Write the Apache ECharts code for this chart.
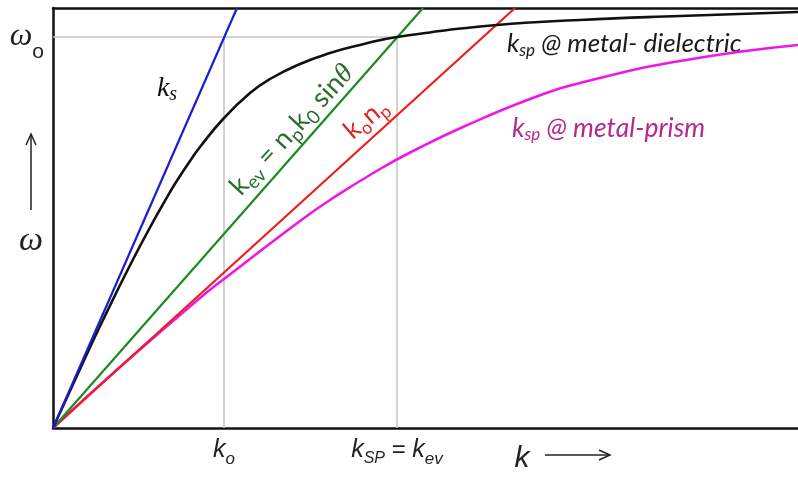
<!DOCTYPE html>
<html>
<head>
<meta charset="utf-8">
<script src="https://cdn.jsdelivr.net/npm/echarts@6/dist/echarts.min.js"></script>
<style>html,body{margin:0;padding:0;background:#fff}#c{width:798px;height:481px}</style>
</head>
<body>
<div id="c"></div>
<script>
// Axis extents (arbitrary units: wavevector k, frequency ω)
const kMax = 745;
const wMax = 420;
// Reference positions
const k0 = 171;
const kSP = 344;
const omega0 = 391;
// Tick labels
const xTickValues = [k0, kSP];
const xTickLabels = ['{k|k}{s|o}', '{k|k}{s2|SP}{e| = }{k|k}{s|ev}'];
const yTickValues = [omega0];
const yTickLabels = ['{w|ω}{o|o}'];
// Light line k_s
const ksK = [0, 184];
const ksW = [0, 420];
// Evanescent wave k_ev = n_p k0 sinθ
const kevK = [0, 370];
const kevW = [0, 420];
// k0 n_p
const knpK = [0, 462];
const knpW = [0, 420];
// SP dispersion at metal-dielectric
const mdK = [0, 22, 50, 87, 117, 137, 147, 171, 197, 217, 247, 277, 307, 344, 444, 527, 627, 745];
const mdW = [0, 48, 108, 182, 236, 267, 281, 310, 335, 349, 364, 375, 383, 391, 403, 408, 412, 416];
// SP dispersion at metal-prism
const mpK = [0, 67, 147, 171, 247, 277, 327, 364, 410, 477, 527, 627, 745];
const mpW = [0, 61, 130, 149, 207, 228, 259, 279, 301, 329, 345, 367, 383];

const pairs = (a, b) => a.map((v, i) => [v, b[i]]);

const chart = echarts.init(document.getElementById('c'), null, {renderer: 'canvas'});

function lineSeries(data, color, width, smooth, z) {
  return {type: 'line', data: data, symbol: 'none', smooth: smooth, silent: true, z: z || 2,
    lineStyle: {color: color, width: width}, xAxisIndex: 0, yAxisIndex: 0};
}
const grey = '#c4c4c4';

// rich-text helpers: main token and lowered subscript token
function mainTok(family, size, color, lh, italic) {
  return {fontFamily: family, fontSize: size, fontStyle: italic ? 'italic' : 'normal', color: color, fill: color,
    lineHeight: lh, verticalAlign: 'top'};
}
function subTok(family, size, color, drop, italic) {
  return {fontFamily: family, fontSize: size, fontStyle: italic ? 'italic' : 'normal', color: color, fill: color,
    verticalAlign: 'top', padding: [drop, 0, 0, 0]};
}

const option = {
  animation: false,
  backgroundColor: '#fff',
  grid: {left: 53, right: 0, top: 8, bottom: 53},
  xAxis: [{
    type: 'value', min: 0, max: kMax, position: 'bottom',
    axisLine: {show: true, onZero: false, lineStyle: {color: '#111', width: 2.5}},
    axisTick: {show: false},
    splitLine: {show: false},
    axisLabel: {
      show: true, customValues: xTickValues, margin: 10,
      formatter: (v) => xTickLabels[xTickValues.indexOf(v)] || '',
      rich: {
        k: mainTok('Liberation Sans', 25, '#222', 30, true),
        e: mainTok('Liberation Sans', 24, '#222', 30, false),
        s: subTok('Liberation Sans', 17, '#222', 13, true),
        s2: subTok('Liberation Sans', 16, '#222', 13, true)
      }
    }
  }, {
    type: 'value', min: 0, max: kMax, position: 'top',
    axisLine: {show: true, onZero: false, lineStyle: {color: '#111', width: 2.5}},
    axisTick: {show: false}, axisLabel: {show: false}, splitLine: {show: false}
  }],
  yAxis: {
    type: 'value', min: 0, max: wMax,
    axisLine: {show: true, onZero: false, lineStyle: {color: '#111', width: 2.5}},
    axisTick: {show: false},
    splitLine: {show: false},
    axisLabel: {
      show: true, customValues: yTickValues, margin: 9,
      formatter: (v) => yTickLabels[yTickValues.indexOf(v)] || '',
      rich: {
        w: {fontFamily: 'Liberation Serif', fontStyle: 'italic', fontSize: 32, color: '#222', lineHeight: 30, verticalAlign: 'middle'},
        o: {fontFamily: 'Liberation Sans', fontSize: 21, color: '#222', verticalAlign: 'middle', padding: [30, 0, 0, 0]}
      }
    }
  },
  series: [
    lineSeries([[0, omega0], [kSP, omega0]], grey, 1.5, false, 1),
    lineSeries([[k0, 0], [k0, omega0]], grey, 1.5, false, 1),
    lineSeries([[kSP, 0], [kSP, omega0]], grey, 1.5, false, 1),
    lineSeries(pairs(mpK, mpW), '#ee18e6', 2.6, 0.5, 2),
    lineSeries(pairs(knpK, knpW), '#ee1c1c', 2.2, false, 3),
    lineSeries(pairs(kevK, kevW), '#1b8a22', 2.2, false, 3),
    lineSeries(pairs(mdK, mdW), '#111111', 2.6, 0.5, 4),
    lineSeries(pairs(ksK, ksW), '#1c1cd0', 2.2, false, 5)
  ],
  graphic: [
    // k_s label
    {type: 'text', x: 167, y: 90, style: {text: '{k|k}{s|s}', align: 'center', verticalAlign: 'middle',
      rich: {k: mainTok('Liberation Serif', 28, '#111', 28, true), s: subTok('Liberation Serif', 20, '#111', 10, true)}}},
    // y-axis arrow and ω
    {type: 'line', shape: {x1: 31, y1: 210, x2: 31, y2: 136}, style: {stroke: '#222', lineWidth: 1.5}},
    {type: 'polyline', shape: {points: [[26, 145], [31, 134], [36, 145]]}, style: {stroke: '#222', lineWidth: 1.5, fill: null}},
    {type: 'text', x: 31, y: 241, style: {text: 'ω', align: 'center', verticalAlign: 'middle',
      fontFamily: 'Liberation Serif', fontStyle: 'italic', fontSize: 34, fill: '#222'}},
    // x-axis k arrow
    {type: 'text', x: 522, y: 459, style: {text: 'k', align: 'center', verticalAlign: 'middle',
      fontFamily: 'Liberation Sans', fontStyle: 'italic', fontSize: 30, fill: '#222'}},
    {type: 'line', shape: {x1: 545, y1: 455, x2: 609, y2: 455}, style: {stroke: '#222', lineWidth: 1.5}},
    {type: 'polyline', shape: {points: [[599, 450], [610, 455], [599, 460]]}, style: {stroke: '#222', lineWidth: 1.5, fill: null}},
    // k_ev label (rotated along green line)
    {type: 'text', x: 293, y: 131, rotation: 47 * Math.PI / 180, style: {
      text: '{a|k}{b|ev}{a| = n}{b|p}{a|k}{b|0}{a| sin}{t|θ}', align: 'center', verticalAlign: 'middle',
      rich: {a: mainTok('Lato', 27, '#2a6e2e', 30, false),
             b: subTok('Lato', 19, '#2a6e2e', 12, false),
             t: mainTok('Liberation Serif', 28, '#2a6e2e', 30, true)}}},
    // k0 n_p label (rotated along red line)
    {type: 'text', x: 367, y: 120, rotation: 40 * Math.PI / 180, style: {
      text: '{a|k}{b|o}{a|n}{b|p}', align: 'center', verticalAlign: 'middle',
      rich: {a: mainTok('Lato', 26, '#e02424', 28, false), b: subTok('Lato', 18, '#e02424', 12, false)}}},
    // k_sp @ metal-dielectric
    {type: 'text', x: 507, y: 45, style: {
      text: '{a|k}{b|sp}{a| @ metal- dielectric}', align: 'left', verticalAlign: 'middle',
      rich: {a: mainTok('Lato', 26, '#1a1a1a', 28, true), b: subTok('Lato', 17, '#1a1a1a', 12, true)}}},
    // k_sp @ metal-prism
    {type: 'text', x: 512, y: 129, style: {
      text: '{a|k}{b|sp}{a| @ metal-prism}', align: 'left', verticalAlign: 'middle',
      rich: {a: mainTok('Lato', 26.5, '#b42a8c', 28, true), b: subTok('Lato', 17, '#b42a8c', 12, true)}}}
  ]
};
chart.setOption(option);
</script>
</body>
</html>
